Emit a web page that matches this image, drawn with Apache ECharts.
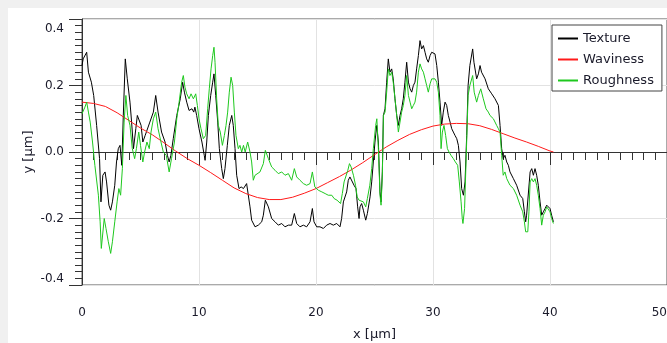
<!DOCTYPE html>
<html>
<head>
<meta charset="utf-8">
<script src="https://cdn.jsdelivr.net/npm/echarts/dist/echarts.min.js"></script>
<style>
  html, body { margin: 0; padding: 0; background: #f0f0f0; overflow: hidden; }
  #chart { position: absolute; left: 8px; top: 8px; width: 659px; height: 335px; background: #fff; }
</style>
</head>
<body>
<div id="chart"></div>
<script>
// profile data, x in µm, y in µm
var texture = [
  [0,0.26],[0.1,0.28],[0.4,0.30],[0.55,0.24],[0.8,0.21],[1.0,0.17],[1.25,0.08],[1.5,-0.02],[1.62,-0.15],[1.78,-0.07],
  [1.97,-0.06],[2.1,-0.09],[2.3,-0.16],[2.45,-0.175],[2.6,-0.15],[2.8,-0.10],[2.95,-0.03],[3.1,0.01],[3.25,0.02],[3.4,-0.04],
  [3.53,0.11],[3.7,0.28],[3.87,0.22],[4.1,0.15],[4.24,0.09],[4.4,0.01],[4.6,0.07],[4.73,0.11],[4.9,0.115],[5.05,0.08],
  [5.2,0.03],[5.4,0.05],[5.55,0.05],[5.8,0.09],[6.1,0.12],[6.3,0.17],[6.5,0.12],[6.8,0.06],[7.1,0.03],[7.3,-0.01],
  [7.45,-0.03],[7.6,-0.01],[7.8,0.04],[8.1,0.11],[8.4,0.16],[8.6,0.21],[8.75,0.18],[8.95,0.15],[9.15,0.125],[9.4,0.13],
  [9.55,0.12],[9.65,0.135],[9.8,0.11],[10.0,0.07],[10.25,0.03],[10.45,-0.01],[10.52,-0.025],[10.66,0.03],[10.8,0.11],[11.0,0.17],
  [11.17,0.21],[11.28,0.235],[11.43,0.17],[11.6,0.09],[11.74,0.01],[11.94,-0.05],[12.08,-0.08],[12.22,-0.05],[12.42,0.02],[12.59,0.08],
  [12.8,0.11],[12.93,0.08],[13.08,0.01],[13.22,-0.07],[13.42,-0.11],[13.6,-0.105],[13.8,-0.11],[14.07,-0.095],[14.22,-0.09],[14.36,-0.165],
  [14.5,-0.205],[14.79,-0.225],[15.07,-0.22],[15.36,-0.21],[15.5,-0.19],[15.67,-0.145],[15.93,-0.165],[16.21,-0.2],[16.5,-0.21],[16.78,-0.22],
  [17.07,-0.215],[17.35,-0.225],[17.64,-0.22],[17.92,-0.22],[18.15,-0.185],[18.35,-0.215],[18.63,-0.225],[18.92,-0.22],[19.2,-0.225],[19.49,-0.21],
  [19.69,-0.17],[19.83,-0.21],[20.06,-0.225],[20.34,-0.225],[20.63,-0.23],[20.91,-0.22],[21.2,-0.215],[21.48,-0.22],[21.77,-0.215],[22.05,-0.225],
  [22.19,-0.2],[22.34,-0.15],[22.48,-0.145],[22.62,-0.12],[22.76,-0.085],[22.9,-0.075],[23.05,-0.07],[23.25,-0.1],[23.42,-0.11],[23.56,-0.165],
  [23.68,-0.2],[23.76,-0.165],[23.9,-0.155],[24.05,-0.175],[24.25,-0.205],[24.39,-0.185],[24.62,-0.135],[24.76,-0.09],[24.9,-0.03],[25.04,0.03],
  [25.19,0.08],[25.33,0.03],[25.47,-0.12],[25.56,-0.15],[25.67,-0.06],[25.76,0.11],[25.9,0.13],[26.04,0.21],[26.18,0.28],[26.32,0.24],
  [26.47,0.25],[26.6,0.22],[26.75,0.16],[26.9,0.11],[27.04,0.08],[27.18,0.11],[27.32,0.13],[27.46,0.16],[27.6,0.21],[27.75,0.27],
  [27.9,0.21],[28.04,0.19],[28.18,0.18],[28.32,0.20],[28.46,0.21],[28.6,0.25],[28.75,0.29],[28.89,0.335],[29.03,0.31],[29.18,0.32],
  [29.32,0.30],[29.46,0.28],[29.6,0.27],[29.75,0.29],[29.89,0.30],[30.03,0.30],[30.17,0.295],[30.32,0.26],[30.46,0.21],[30.6,0.15],
  [30.74,0.08],[30.88,0.12],[31.03,0.15],[31.17,0.14],[31.31,0.11],[31.46,0.09],[31.6,0.07],[31.74,0.06],[31.88,0.05],[32.03,0.04],
  [32.17,0.02],[32.31,-0.03],[32.45,-0.11],[32.6,-0.13],[32.74,-0.09],[32.88,0.05],[33.0,0.2],[33.15,0.26],[33.39,0.31],[33.5,0.27],
  [33.73,0.22],[33.88,0.235],[34.02,0.26],[34.15,0.24],[34.45,0.22],[34.73,0.19],[35.02,0.175],[35.3,0.16],[35.59,0.14],[35.73,0.08],
  [35.87,0.01],[36.0,-0.02],[36.15,-0.01],[36.3,-0.03],[36.44,-0.04],[36.58,-0.06],[36.87,-0.08],[37.15,-0.10],[37.44,-0.13],[37.67,-0.14],
  [37.81,-0.18],[37.92,-0.21],[38.0,-0.19],[38.15,-0.19],[38.3,-0.06],[38.44,-0.05],[38.58,-0.07],[38.72,-0.05],[38.86,-0.07],[39.0,-0.10],
  [39.15,-0.15],[39.29,-0.19],[39.43,-0.18],[39.58,-0.17],[39.72,-0.16],[39.86,-0.155],[40.0,-0.17],[40.14,-0.19],[40.29,-0.21]
];

var waviness = [
  [0,0.15],[1,0.146],[2,0.137],[3,0.118],[4,0.095],[5,0.072],[6,0.052],[7,0.028],[8,0.003],[9,-0.02],
  [10,-0.04],[11,-0.062],[12,-0.085],[13,-0.108],[14,-0.125],[15,-0.137],[16,-0.143],[17,-0.143],[18,-0.136],[19,-0.124],
  [20,-0.11],[21,-0.092],[22,-0.074],[23,-0.054],[24,-0.032],[25,-0.008],[26,0.015],[27,0.035],[28,0.053],[29,0.067],
  [30,0.078],[31,0.084],[32,0.086],[33,0.085],[34,0.079],[35,0.068],[36,0.055],[37,0.042],[38,0.03],[39,0.017],
  [40,0.003],[40.3,0.0]
];

var roughness = [
  [0,0.115],[0.25,0.135],[0.4,0.15],[0.55,0.12],[0.7,0.09],[0.9,0.03],[1.1,-0.04],[1.4,-0.13],[1.55,-0.21],[1.65,-0.29],
  [1.9,-0.20],[2.05,-0.23],[2.25,-0.27],[2.45,-0.305],[2.6,-0.27],[2.8,-0.21],[3.0,-0.15],[3.15,-0.11],[3.3,-0.13],[3.45,-0.05],
  [3.6,0.09],[3.75,0.17],[3.9,0.11],[4.1,0.08],[4.3,0.01],[4.5,-0.02],[4.65,0.01],[4.85,0.06],[5.0,0.02],[5.2,-0.03],
  [5.35,0.0],[5.55,0.03],[5.75,0.01],[5.9,0.06],[6.1,0.10],[6.3,0.12],[6.5,0.07],[6.75,0.03],[6.95,0.0],[7.2,-0.01],
  [7.45,-0.06],[7.65,-0.02],[7.9,0.03],[8.1,0.10],[8.3,0.15],[8.52,0.21],[8.66,0.23],[8.8,0.195],[8.95,0.175],[9.15,0.16],
  [9.32,0.175],[9.52,0.16],[9.72,0.175],[9.86,0.14],[10.0,0.10],[10.17,0.07],[10.37,0.04],[10.57,0.05],[10.74,0.13],[10.88,0.19],
  [11.03,0.25],[11.17,0.29],[11.28,0.315],[11.37,0.27],[11.51,0.16],[11.65,0.08],[11.82,0.06],[12.0,0.02],[12.17,0.05],[12.31,0.08],
  [12.45,0.12],[12.59,0.18],[12.74,0.225],[12.88,0.2],[13.02,0.12],[13.16,0.05],[13.36,0.01],[13.5,0.02],[13.65,0.0],[13.8,0.02],
  [13.95,0.0],[14.16,0.03],[14.36,0.0],[14.5,-0.03],[14.64,-0.085],[14.79,-0.07],[14.93,-0.075],[15.21,-0.06],[15.5,-0.035],[15.67,0.005],
  [15.93,-0.02],[16.21,-0.045],[16.5,-0.055],[16.78,-0.065],[17.07,-0.06],[17.35,-0.07],[17.64,-0.065],[17.92,-0.085],[18.15,-0.05],[18.35,-0.075],
  [18.63,-0.085],[18.92,-0.095],[19.2,-0.1],[19.49,-0.095],[19.69,-0.06],[19.9,-0.105],[20.2,-0.115],[20.5,-0.12],[20.78,-0.125],[21.05,-0.13],
  [21.35,-0.13],[21.55,-0.14],[21.8,-0.145],[22.1,-0.155],[22.25,-0.125],[22.4,-0.09],[22.55,-0.085],[22.72,-0.055],[22.86,-0.035],[23.0,-0.045],
  [23.2,-0.07],[23.38,-0.1],[23.52,-0.135],[23.68,-0.145],[23.85,-0.14],[24.05,-0.15],[24.25,-0.165],[24.39,-0.14],[24.6,-0.1],[24.76,-0.05],
  [24.9,0.01],[25.1,0.08],[25.2,0.10],[25.33,0.01],[25.47,-0.13],[25.56,-0.16],[25.67,-0.07],[25.76,0.11],[25.9,0.12],[26.04,0.18],
  [26.18,0.25],[26.32,0.23],[26.47,0.24],[26.6,0.21],[26.75,0.16],[26.9,0.11],[27.04,0.06],[27.18,0.09],[27.32,0.12],[27.46,0.14],
  [27.6,0.17],[27.75,0.23],[27.9,0.17],[28.04,0.15],[28.18,0.13],[28.32,0.14],[28.46,0.15],[28.6,0.18],[28.75,0.24],[28.89,0.265],
  [29.03,0.25],[29.18,0.24],[29.32,0.22],[29.46,0.2],[29.6,0.18],[29.75,0.205],[29.89,0.22],[30.03,0.225],[30.17,0.22],[30.32,0.21],
  [30.46,0.18],[30.6,0.11],[30.69,0.01],[30.8,0.06],[30.94,0.08],[31.08,0.05],[31.23,0.01],[31.37,0.0],[31.54,-0.01],[31.74,-0.02],
  [31.91,-0.03],[32.11,-0.04],[32.25,-0.09],[32.4,-0.15],[32.5,-0.2],[32.56,-0.215],[32.7,-0.17],[32.85,0.0],[33.0,0.17],[33.15,0.2],
  [33.39,0.23],[33.52,0.18],[33.73,0.15],[33.88,0.17],[34.08,0.19],[34.3,0.16],[34.53,0.13],[34.73,0.12],[34.87,0.11],[35.16,0.10],
  [35.44,0.08],[35.59,0.07],[35.73,0.06],[35.87,-0.01],[36.0,-0.07],[36.15,-0.06],[36.3,-0.08],[36.44,-0.085],[36.58,-0.10],[36.87,-0.11],
  [37.15,-0.13],[37.44,-0.16],[37.67,-0.18],[37.81,-0.21],[37.92,-0.24],[38.1,-0.24],[38.2,-0.18],[38.3,-0.09],[38.44,-0.08],[38.58,-0.09],
  [38.72,-0.08],[38.86,-0.10],[39.0,-0.13],[39.15,-0.17],[39.29,-0.22],[39.43,-0.19],[39.58,-0.18],[39.72,-0.165],[39.86,-0.16],[40.0,-0.18],
  [40.14,-0.2],[40.29,-0.215]
];

var seriesNames = ['Texture', 'Waviness', 'Roughness'];
var seriesColors = ['#000000', '#ff1a1a', '#1ec81e'];

var font = 'DejaVu Sans';
var txtColor = '#1a1a2a';
var chart = echarts.init(document.getElementById('chart'));

var option = {
  animation: false,
  textStyle: { fontFamily: font },
  grid: {
    left: 74, top: 11, right: 0, bottom: 58,
    outerBoundsMode: 'none',
    containLabel: false,
    show: true, borderColor: '#555', borderWidth: 1, backgroundColor: 'transparent'
  },
  legend: {
    data: seriesNames,
    orient: 'vertical',
    left: 544, top: 17,
    itemWidth: 20, itemHeight: 14, itemGap: 8,
    padding: [7, 8, 4, 5],
    backgroundColor: '#fff',
    borderColor: '#444', borderWidth: 1, borderRadius: 0,
    itemStyle: { opacity: 0 },
    textStyle: { fontFamily: font, fontSize: 13, color: txtColor }
  },
  xAxis: {
    type: 'value', min: 0, max: 50, interval: 10,
    name: 'x [µm]', nameLocation: 'middle', nameGap: 43,
    nameMoveOverlap: false,
    nameTextStyle: { fontFamily: font, fontSize: 13, color: txtColor },
    axisLine: { lineStyle: { color: '#333', width: 1 } },
    axisTick: { length: 13, lineStyle: { color: '#333' } },
    minorTick: { show: true, splitNumber: 10, length: 8, lineStyle: { color: '#333' } },
    splitLine: { show: true, lineStyle: { color: '#e2e2e2', width: 1 } },
    axisLabel: { fontFamily: font, fontSize: 12, color: txtColor, margin: 22, alignMaxLabel: 'right' }
  },
  yAxis: {
    type: 'value', min: -0.4, max: 0.4, interval: 0.2,
    name: 'y [µm]', nameLocation: 'middle', nameGap: 47,
    nameMoveOverlap: false,
    nameTextStyle: { fontFamily: font, fontSize: 13, color: txtColor },
    axisLine: { show: true, lineStyle: { color: '#333', width: 1 } },
    axisTick: { show: true, length: 13, lineStyle: { color: '#333' } },
    minorTick: { show: true, splitNumber: 10, length: 7, lineStyle: { color: '#333' } },
    splitLine: { show: true, lineStyle: { color: '#e2e2e2', width: 1 } },
    axisLabel: {
      fontFamily: font, fontSize: 12, color: txtColor, margin: 18,
      verticalAlignMaxLabel: 'top', verticalAlignMinLabel: 'bottom',
      formatter: function (v) {
        var s = v.toFixed(1);
        return v > 0.39 ? '{t|' + s + '}' : s;
      },
      rich: { t: { fontFamily: font, fontSize: 12, color: txtColor, padding: [4, 0, 0, 0] } }
    }
  },
  series: [texture, waviness, roughness].map(function (d, i) {
    return {
      name: seriesNames[i],
      type: 'line',
      data: d,
      symbol: 'none',
      showSymbol: false,
      color: seriesColors[i],
      lineStyle: { width: 1, color: seriesColors[i] }
    };
  })
};

chart.setOption(option);
</script>
</body>
</html>
